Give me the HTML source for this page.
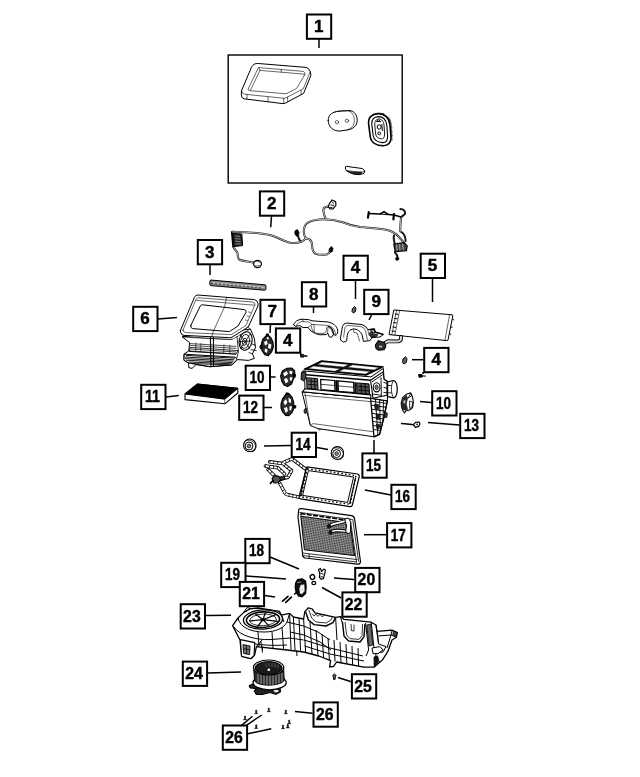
<!DOCTYPE html>
<html lang="en">
<head>
<meta charset="utf-8">
<title>HVAC Unit Parts Diagram</title>
<style>
html,body{margin:0;padding:0;background:#fff;}
body{width:640px;height:777px;overflow:hidden;}
svg{display:block;filter:grayscale(1);}
.lbl rect{fill:#fff;stroke:#000;stroke-width:2;}
.lbl text{font-family:"Liberation Sans",Arial,Helvetica,sans-serif;font-weight:bold;font-size:15.6px;text-anchor:middle;fill:#000;stroke:#000;stroke-width:.4;stroke-linejoin:round;}
.ld line{stroke:#000;stroke-width:1.5;}
.p{fill:none;stroke:#000;stroke-width:1;stroke-linejoin:round;stroke-linecap:round;}
.pw{fill:#fff;stroke:#000;stroke-width:1;stroke-linejoin:round;stroke-linecap:round;}
.t{fill:none;stroke:#000;stroke-width:.6;stroke-linejoin:round;stroke-linecap:round;}
.k{fill:#000;stroke:#000;stroke-width:.6;stroke-linejoin:round;}
.g{fill:#777;stroke:#000;stroke-width:.8;stroke-linejoin:round;}
</style>
</head>
<body>
<svg width="640" height="777" viewBox="0 0 640 777">
<rect x="0" y="0" width="640" height="777" fill="#fff"/>
<!-- 01_frame.svg -->
<g id="kit-frame">
<rect x="228.2" y="55" width="174" height="128" fill="none" stroke="#000" stroke-width="1.4"/>
<!-- gasket -->
<path class="p" stroke-width=".85" d="M241.6 90.5 L251.4 67.4 Q253.6 63 258.4 63.5 L306 67.4 Q308.8 67.9 310.3 71.5 L310.9 75.5 L303.6 93.4 L285.2 103.2 Q283 103.8 281 103.4 L244 98.8 Q241 98 241.3 94.8 Z"/>
<path class="t" d="M241.6 90.5 Q241.3 93.8 244.5 94.2 L283 98.2 Q284.8 98.4 286 97.8 L303.3 88.8 L310.3 71.5"/>
<path class="t" d="M258.9 67.6 L303.2 71.4 Q305.4 72 304.8 74.6 L296.6 88.4 L286 93.8 L249.2 90.6 Q247.6 90.2 248.4 88.4 Z"/>
<path class="t" d="M258.9 67.6 L260 70.4 L302.5 74 L304.8 74.6 M260 70.4 L250.4 90.4 M281 69.6 L281.4 72.2 M268 97 L268 101.6 M283.6 98.4 L283.8 103.2 M287.5 97.3 L287.8 101.7 M301 90.2 L301.3 94.4 M247 94.6 L247 99"/>
<!-- oval plate -->
<path class="p" stroke-width=".85" d="M328.2 120.5 C328 114.5 333 111.6 339 111.2 L349 110.6 C355 110.6 357.3 116 357.2 120.6 C357 126 353 129.2 347 130 L340 131 C333 131.3 328.4 127 328.2 120.5 Z"/>
<path class="t" d="M334 112.5 C336 111 346 110.2 350.6 111 M349.5 111.2 C353 113 354.6 117 354.3 121 C354 125.6 351.5 128.4 347.5 129.8"/>
<ellipse class="t" cx="336.9" cy="122.2" rx="1.7" ry="1.6"/>
<ellipse class="t" cx="346.9" cy="120.8" rx="1.7" ry="1.6"/>
<!-- grommet -->
<path d="M368.6 124 C368 117 372 114 378 113.8 C385 113.6 389 118 390 125 L391 137 C391.4 142.6 388 146 383 145.8 C377 145.6 371.6 142.8 370.4 137.6 Z" fill="#fff" stroke="#000" stroke-width="1.6"/>
<path d="M371.8 124.6 C371.4 119.4 374 116.8 378.6 116.6 C383.4 116.6 386 120 386.8 125 L387.6 136 C387.8 140.6 386 142.8 382.4 142.6 C377.6 142.2 374 140 373.2 136 Z" fill="none" stroke="#000" stroke-width="1.1"/>
<path class="t" d="M388.5 117 L390.6 121 M389.6 119.6 L391.4 124 M390.4 123 L392 128 M390.8 127 L392.2 132 M391.2 131 L392.4 136 M391.4 135 L392.2 140 M373 114.4 L378 113 L384 113.6"/>
<path d="M374.8 125 C374.6 121 376 119.2 378.8 119 C382 119 383.6 121.6 384 125 L384.6 134 C384.6 137.4 383.6 139 381.4 138.8 C378.4 138.6 376 137 375.6 134 Z" fill="none" stroke="#000" stroke-width=".9"/>
<path d="M376.4 121.6 L378.4 119.8 L380.6 121.6 Z M377.2 127 A2 2.2 0 1 0 381.2 127 A2 2.2 0 1 0 377.2 127 M377.8 133.4 A1.4 1.4 0 1 0 380.6 133.4 A1.4 1.4 0 1 0 377.8 133.4 M381.8 124 L382.4 131" fill="none" stroke="#000" stroke-width="1"/>
<!-- small wedge -->
<path class="p" d="M345.4 167 Q345.2 169.4 346.4 170.6 Q352 175 360 174.6 L364 173.4 L364.8 171 L362.6 168.6 L347 166.4 Z"/>
<path d="M347.4 171.2 Q353 174.8 360 174.2 L362 172 Q354 172.4 347.4 171.2 Z" fill="#333" stroke="#000" stroke-width=".6"/>
<path class="t" d="M346.4 170.6 L361.6 172.4 L364.8 171 M361.6 172.4 L360 174.6"/>
</g>
<!-- 02_harness.svg -->
<g id="harness">
<g fill="none" stroke="#1a1a1a" stroke-width="2.05" stroke-linecap="round" stroke-linejoin="round">
<path id="hw1" d="M232.5 231.8 C245 232 258 232.6 270 235 C280 237.6 285 242.6 292 243 C298 243.4 303 241.6 305.8 238.4 C303 234 303.6 229 305 225.6 C307 221.4 313 220 319 219.4 C328 218.8 336 220 342 222 C348 224.6 352 226 360 227 C370 228 379 228.6 386 229.8 C392 231 396 233.6 399 237 C401.6 240 403.6 242 405 244"/>
<path id="hw2" d="M326 219.2 C324 215 323.2 212 323.4 209.4 C323.8 207 326 206.6 328.6 206.6"/>
<path id="hw3" d="M305.8 238.4 C309 238.6 311.4 240 311.8 243 C312.2 247 312 250 314 252.4 C317 255 323 255 326.4 254.6 C328.6 254 329.6 252.6 330.4 251"/>
<path id="hw4" d="M298 236 C298.6 238.6 299.6 240.4 301 241.6"/>
<path id="hw5" d="M233.6 247 C234 249.4 236.6 250.6 237.4 253 C238.2 256 237.4 258.4 239.6 259.8 C243 261.4 248 261.4 253 262.6"/>
<path id="hw6" d="M405.6 241 C405.4 236 403.6 232.6 400.2 231.4 C400.2 227 400.6 222 401 218 C401.6 215.4 404.4 215.4 405 213.6 C405.6 211 403.6 209.2 400.4 209"/>
<path id="hw7" d="M394 235.4 C393.4 238 394 241 394.6 243 M395 252 C395 254 397.6 254 397.2 256.4"/>
</g>
<g fill="none" stroke="#fff" stroke-width=".7" stroke-linecap="round" stroke-linejoin="round">
<path d="M232.5 231.8 C245 232 258 232.6 270 235 C280 237.6 285 242.6 292 243 C298 243.4 303 241.6 305.8 238.4 C303 234 303.6 229 305 225.6 C307 221.4 313 220 319 219.4 C328 218.8 336 220 342 222 C348 224.6 352 226 360 227 C370 228 379 228.6 386 229.8 C392 231 396 233.6 399 237 C401.6 240 403.6 242 405 244"/>
<path d="M326 219.2 C324 215 323.2 212 323.4 209.4 C323.8 207 326 206.6 328.6 206.6"/>
<path d="M305.8 238.4 C309 238.6 311.4 240 311.8 243 C312.2 247 312 250 314 252.4 C317 255 323 255 326.4 254.6 C328.6 254 329.6 252.6 330.4 251"/>
<path d="M233.6 247 C234 249.4 236.6 250.6 237.4 253 C238.2 256 237.4 258.4 239.6 259.8 C243 261.4 248 261.4 253 262.6"/>
<path d="M400.2 231.4 C400.2 227 400.6 222 401 218"/>
</g>
<!-- left connector -->
<path d="M232.4 233.4 L241.8 234 L242.6 245.6 L233.6 246.6 Z" fill="#222" stroke="#000" stroke-width="1"/>
<path d="M235 236 L240 236.4 M235 238.6 L240.4 239 M235.2 241.2 L240.6 241.6 M235.4 243.8 L240.8 244" fill="none" stroke="#bbb" stroke-width=".7"/>
<path d="M231.6 231.4 L233 247.4" fill="none" stroke="#000" stroke-width="1.4"/>
<!-- round grommet -->
<ellipse cx="257.5" cy="264" rx="3.9" ry="3.6" fill="#fff" stroke="#000" stroke-width="1.2"/>
<path class="t" d="M254.4 262.4 C255.4 260.8 259 260.8 260 262.6 M255 266 L259.6 265.6"/>
<!-- small connectors -->
<path d="M295 231 L297.4 229.6 L299 232.4 L298.6 235.4 L296.4 236.2 L294.8 233.6 Z" fill="#000" stroke="#000" stroke-width=".8"/>
<path d="M329.4 248.4 L331.4 246.6 L333 248.4 L332.4 251.4 L330.4 252.4 L329 250.8 Z" fill="#000" stroke="#000" stroke-width=".8"/>
<path d="M329.4 203.6 L332 200 L335.6 201.6 L336 205 L333 208.8 L330 209 L328.4 206.6 Z" fill="#fff" stroke="#000" stroke-width="1.2"/>
<path d="M330.6 205 L334 205.4 M332 201.6 L333.6 203.6 M330 207.6 L332.6 207.8" fill="none" stroke="#000" stroke-width="1"/>
<!-- right connector block -->
<path d="M393.8 244 L404 242.6 L407.2 246 L406.4 250.6 L395.2 251.6 Z" fill="#444" stroke="#000" stroke-width="1.2"/>
<path d="M396.6 244.4 L397 250.8 M399.6 244 L400 250.6 M402.6 243.6 L403.2 250.4" fill="none" stroke="#ddd" stroke-width=".7"/>
<path d="M396 257.6 L398.2 257 L399 259.2 L397 260.4 L395.6 259.4 Z" fill="#000" stroke="#000" stroke-width=".8"/>
<!-- upper small harness -->
<path d="M368.6 213.4 L380 214 L384 211.6 L388.6 214.6 L394 215 L401 217" fill="none" stroke="#000" stroke-width="1.5" stroke-linejoin="round"/>
<path d="M380 214 L388.6 214.6" fill="none" stroke="#000" stroke-width="1.2"/>
<path d="M368.8 212 L368 217.6 M394 214 L393.4 219.4" fill="none" stroke="#000" stroke-width="2.2" stroke-linecap="round"/>
</g>
<!-- 03_strip.svg -->
<g id="strip3">
<path d="M210.4 280 L265 284.8 Q266.2 285 266 286.4 L265.8 289.4 Q265.6 290.4 264.4 290.2 L211 285.6 Q209.6 285.2 209.6 283.4 Z" fill="#888" stroke="#000" stroke-width="1"/>
<path d="M211.6 282.6 L264.6 287.4" fill="none" stroke="#ccc" stroke-width="1"/>
<path d="M212 282.6 l0 1.6 M216 283 l0 1.6 M220 283.3 l0 1.6 M224 283.7 l0 1.6 M228 284 l0 1.6 M232 284.4 l0 1.6 M236 284.8 l0 1.6 M240 285.1 l0 1.6 M244 285.5 l0 1.6 M248 285.9 l0 1.6 M252 286.2 l0 1.6 M256 286.6 l0 1.6 M260 287 l0 1.6" fill="none" stroke="#000" stroke-width=".8"/>
</g>
<!-- 05_heater.svg -->
<g id="heater5">
<path class="pw" d="M394.2 310 L452.4 314.8 L452.8 316 L448 340 L446.8 340.6 L389.4 334.6 Z" stroke-width="1.1"/>
<path class="t" d="M399.6 310.6 L394.8 335.2 M396.6 310.2 L391.8 334.8 M449.6 314.6 L445 340.2"/>
<path d="M395 314 L398.4 314.4 M394.2 318.4 L397.6 318.8 M393.4 322.6 L396.8 323 M392.6 327 L396 327.4 M391.8 331 L395.2 331.4" fill="none" stroke="#000" stroke-width="1"/>
<path d="M452.4 319.6 l1.6 .2 M451 327 l1.6 .2 M449.6 334 l1.6 .2" fill="none" stroke="#000" stroke-width="1"/>
<!-- pipe -->
<path d="M401 337 C401.4 340 400 341.6 397 341.4 L388 341.2 L384 343.6" fill="none" stroke="#000" stroke-width="3.9" stroke-linecap="round"/>
<path d="M401 337 C401.4 340 400 341.6 397 341.4 L388 341.2 L384 343.6" fill="none" stroke="#ddd" stroke-width="2" stroke-linecap="round"/>
<path d="M375.4 345 L378.4 340.6 L381 341.6 L384.6 342.6 L385.8 346.4 L384 349.8 L378.6 350.2 L376 348.4 Z" fill="#333" stroke="#000" stroke-width="1.1"/>
<path d="M378.6 345 L382.6 345.4 L382.4 348 L379 347.8 Z" fill="#ccc" stroke="#000" stroke-width=".6"/>
</g>
<!-- 06_housing.svg -->
<g id="housing6">
<!-- lower body -->
<path class="pw" d="M182.4 337 L189.6 342.6 L188.8 351 L184 354 L184 360.4 L188.6 363 L188.8 367.6 L192 368.4 L196 364.6 L210 366.8 L232 365 L237.6 359.6 L248.6 360.4 L254.4 358.4 L252.4 353.8 L255.4 348 L254.4 338.6 L250.6 329.4 Z"/>
<!-- louvre bands -->
<path d="M189.4 351 L236 354 L238 350.6 L190 347.4 Z" fill="#fff" stroke="#000" stroke-width=".8"/>
<path d="M184.2 354.2 L235.6 357.2 L237 359.8 L231.8 364.8 L210 366.6 L188.8 363 L184 360.2 Z" fill="#fff" stroke="#000" stroke-width="1"/>
<path d="M189 351.4 L236 354.2 M186 355.4 L235 358.2 M185 357 L234.4 359.8 M185 358.6 L233.6 361.2 M186 360.2 L232.6 362.6 M188.4 362 L231.6 363.8 M192 363.6 L229 364.8" fill="none" stroke="#000" stroke-width=".9"/>
<path d="M190 343.6 L236.4 346.4 M190 345.4 L236.4 348.4 M190 349 L236 352" fill="none" stroke="#000" stroke-width=".7"/>
<path d="M210.4 337 L211 366.6 M213.4 337 L213.6 366.4" fill="none" stroke="#000" stroke-width="1.1"/>
<path d="M196 342.6 L195.6 351 M201 343 L200.6 351.4 M224 344.4 L223.6 353 M230 344.8 L229.6 353.4" fill="none" stroke="#000" stroke-width=".6"/>
<!-- actuator wheel -->
<ellipse cx="245.6" cy="341" rx="6.4" ry="9.4" transform="rotate(12 245.6 341)" fill="#fff" stroke="#000" stroke-width="1.1"/>
<ellipse cx="245" cy="341.4" rx="4.4" ry="7" transform="rotate(12 245 341.4)" fill="none" stroke="#000" stroke-width=".8"/>
<ellipse cx="244.6" cy="341.8" rx="2.2" ry="3.6" transform="rotate(12 244.6 341.8)" fill="none" stroke="#000" stroke-width=".8"/>
<path d="M240 334 L249.6 348.6 M250 334 L240.4 349 M238.8 341.6 L251.4 341 M237 336 L238.4 352 L236.6 358.8 M250.6 349.6 L256.6 350.6 M252 344 L256 345.4 M248.6 352.4 L252.6 354" fill="none" stroke="#000" stroke-width=".8"/>
<!-- top frame -->
<path class="pw" d="M180.4 330.6 L194.4 297.4 Q195.4 294.8 198 295 L254.4 299.6 Q257.6 300.2 258 303.6 L258 306 L248.2 327 L232 337.2 Q230.4 337.8 228.6 337.6 L184 335.4 Q180 334.4 180.4 330.6 Z"/>
<path class="t" d="M183 330 L196 299.4 Q196.8 297.6 199 297.8 L252.6 302 Q255.2 302.4 255 304.6 L246 325.4 L231.4 334.6 L186 332.6 Q182.6 332 183 330 Z"/>
<path class="p" d="M190.8 325.4 L200.4 305.8 Q201 304.6 202.6 304.8 L244.4 309.6 Q246.6 310 246 312.4 L238 326 L229.4 331.6 L192.6 328.6 Q190.2 328 190.8 325.4 Z"/>
<path class="t" d="M226.6 297.4 L224.6 306.8 L213.4 331 L211.6 337 M196.6 300.4 L254.4 305.2 M181.4 333.4 L184 336.6 L229 339.6 L233 339 L249.4 329.6 M248.2 327 L250.6 329.6"/>
<path class="t" d="M248.6 312 l2 .4 M247 316 l2 .4 M245.4 320 l2 .4"/>
<path class="t" d="M182.4 337 L210 338.6 L232 339.4"/>
</g>
<!-- 07_actuator.svg -->
<g id="act7">
<path d="M262.6 339.4 L266 335.8 L268.4 335.4 L271 338 L273 342 L273.4 347 L271.6 352 L268.4 355.6 L264.8 354.6 L262 350.6 L261.2 345 Z" fill="#2a2a2a" stroke="#000" stroke-width="1.1" stroke-linejoin="round"/>
<path d="M264 342 L267 340.4 L267.6 344 L265 345.6 Z M268.6 343.6 L271.4 344.6 L270.6 349 L268 348 Z M265 348.4 L267.6 349.6 L267 353 L264.6 351.4 Z M267 337 L269 337.4 L268.6 339.4 L266.6 339 Z" fill="#fff"/>
<path d="M259.8 346 L261.8 344.6 L262.2 348.4 L260.4 349 Z M266.4 333.8 L268.6 334 L268.4 335.8 L266.2 335.6 Z" fill="#000" stroke="#000" stroke-width=".8"/>
<!-- screw near 4 -->
<path d="M300.4 354.4 L303.4 354.4 L304 357 L300.8 357.2 Z" fill="#222" stroke="#000" stroke-width=".9"/>
<path d="M304 355.8 L307.4 356.2" fill="none" stroke="#000" stroke-width="1.4"/>
</g>
<!-- 08_duct.svg -->
<g id="duct8">
<path class="pw" d="M293.6 324.6 C294.6 321.4 298 319.6 302 319.2 L308.6 319.6 L312 320.8 L328 322 C333 323 337 326 337.6 330 C338 332.6 337.4 334.6 335.6 335.2 L333.4 334.6 L331.6 337.2 L329.4 337 L327.6 333 L326.4 334.6 L320 334.8 L315.6 333.6 L311 331 L308 327.4 L303 327.6 L300 325.6 L296 326.2 Z" stroke-width="1.35"/>
<path class="t" stroke-width=".8" d="M296 326.2 C297 323 300 321.6 303 321.6 L309 322 L312 324.4 L327 325.4 C331.6 326 334.4 328.6 335 332 L335.6 335.2 M308 327.4 L312 324.4 M311.6 326 C311 330 314 333 318 333.4 L324 333.4 C326 333 326.6 331 326.6 327.6 M327.6 333 L328 327 C330 327.6 332 330 333.4 334.6 M314 324.6 L314.2 331.6 M302 319.2 L303.6 321.6"/>
<path d="M327.6 326 C331 327 333.4 330 333.6 334.4" fill="none" stroke="#000" stroke-width="1.3"/>
</g>
<!-- 09_cover.svg -->
<g id="cover9">
<path class="pw" d="M340.6 337.4 L342.4 326.6 Q343.4 323.4 346.6 323 L362 324.6 Q366.6 326 367.8 329.6 L374.4 328.6 L375.6 332.4 L383.6 334.4 L380 337 L372 337.6 L370 340.6 L363.4 341.4 L362.4 336 C361 331 357 329 353.6 329 C349.6 329.4 347.4 332 347 337.6 L346.6 341 L343.6 342.2 L341 340.4 Z" stroke-width="1.35"/>
<path class="t" d="M343.6 337 L345 327.6 Q345.8 325.6 348 325.4 L361 326.6 Q364.6 327.6 365.6 331 L367.4 339.6 M353.6 329 L353.8 332.4 L357 333 L359.6 341 M367.8 329.6 L369 335 L372 337.6 M371 329.4 L371.6 333 L375.6 332.4 M369 335 L376 335.4"/>
<path d="M369.6 330 L374 329.4 L374.6 332 L380 333.4 L383 334.6" fill="none" stroke="#000" stroke-width="1.3"/>
<path d="M369.4 333 L372 331 L374 334 L378 334.4 L376 337 L371 337.4 Z" fill="#333" stroke="#000" stroke-width=".7"/>
<!-- clips (4) -->
<path d="M352.4 308.6 L354.6 306.6 L356 308 L355.4 311.6 L353.4 313 L352 311.6 Z" fill="#666" stroke="#000" stroke-width="1"/>
<path d="M403 359 L405.4 356.8 L407 358.4 L406.4 362.4 L404 364 L402.6 362.4 Z" fill="#666" stroke="#000" stroke-width="1"/>
<path d="M418.6 374.6 L422 374.6 L422.4 377 L419 377.2 Z M422.4 375.8 L426 376.2" fill="#000" stroke="#000" stroke-width="1"/>
</g>
<!-- 10_actuators.svg -->
<g id="act10">
<!-- 10 left -->
<path d="M280.6 376 L282.4 371 L286.6 368.4 L291.6 368 L294.6 371 L295 376 L293 380 L291.6 384 L287.6 386.6 L284 385 L281.6 381 Z" fill="#2a2a2a" stroke="#000" stroke-width="1.1" stroke-linejoin="round"/>
<path d="M283 373.6 L286.6 371 L288 374 L284.6 376.6 Z M289.6 370.6 L292.6 371.6 L292 374.6 L289.4 373.6 Z M284 379 L287 378 L288.4 381.6 L285.6 383.6 Z M290 377 L292.6 377.6 L291.4 381 L289.6 380 Z" fill="#fff"/>
<path d="M292.6 373 L296 374.6 L295.6 377.6 L292.8 377 Z" fill="#000"/>
<!-- 12 -->
<path d="M281 404 L282.6 398.6 L286 394.2 L289 393.6 L292 397 L293.6 402 L294 408 L292 412.6 L289 415.6 L285.6 415.4 L282.6 412 L281 408 Z" fill="#2a2a2a" stroke="#000" stroke-width="1.1" stroke-linejoin="round"/>
<path d="M283.4 402 L286 399 L287.4 402.6 L285 405.6 Z M288.6 397.6 L291 399.6 L291 403 L288.6 402 Z M284 408 L287 407 L288 411 L285.6 413 Z M289.6 406 L292 406.6 L291 410.6 L289.4 410 Z" fill="#fff"/>
<path d="M292.6 404.6 L296.4 405.4 L296 408.4 L292.8 408 Z M285.6 392.4 L288.4 392.4 L288.2 394.4 L285.8 394.4 Z" fill="#000"/>
<!-- 14 grommets -->
<g id="g14a">
<ellipse cx="249.8" cy="445.4" rx="6.2" ry="6.4" fill="#fff" stroke="#000" stroke-width="1.1"/>
<path d="M246 440.6 C250 439.4 254.6 441.6 255.6 445.6 C256.4 449 254.6 451.6 252 451.6" fill="none" stroke="#000" stroke-width=".7"/>
<ellipse cx="249" cy="446" rx="3.9" ry="4" fill="#fff" stroke="#000" stroke-width="1"/>
<ellipse cx="249" cy="446" rx="1.8" ry="1.9" fill="#888" stroke="#000" stroke-width=".7"/>
</g>
</g>
<!-- 11_filter.svg -->
<g id="filter11">
<path d="M185 394 L185 399.6 L224.8 403.8 L237.8 393 L237.8 388.4 L197.4 384 Z" fill="#fff" stroke="#000" stroke-width="1.1" stroke-linejoin="round"/>
<path d="M185 394 L197.4 384 L237.8 388.4 L224.8 399.2 Z" fill="#000" stroke="#000" stroke-width="1" stroke-linejoin="round"/>
<path d="M224.8 399.2 L224.8 403.8" fill="none" stroke="#000" stroke-width=".6"/>
</g>
<!-- 13_right.svg -->
<g id="right10-13-14">
<path d="M401.2 403 L402.6 397.6 L406 394.6 L410.6 392.8 L412.4 396.6 L413.4 402 L412.6 407.6 L409.6 410 L405.6 411 L404.6 413 L403 411 L401.6 407 Z" fill="#fff" stroke="#000" stroke-width="1.1" stroke-linejoin="round"/>
<path d="M401.6 403 L403 398 L406.4 395 L408 398 L406.6 404 L408 409.6 L405.6 410.6 L403 410 L401.8 407 Z" fill="#2a2a2a"/>
<path d="M408 398 L410.6 393.6 L411.6 396 Z M409.6 401 L412.6 402 L412 407 L409.6 408.6 Z" fill="none" stroke="#000" stroke-width=".8"/>
<path d="M403.4 401 L405.4 400 L405.4 403 L403.6 403.6 Z" fill="#ccc"/>
<!-- screw 13 -->
<path d="M401.6 423.6 L404.6 423.8 M404.6 423.8 L414 424.8" fill="none" stroke="#000" stroke-width="1.5" stroke-linecap="round"/>
<path d="M413.4 424.6 L415.6 422.4 L419 422 L420 424 L418.6 426.4 L415.4 427.4 Z" fill="#fff" stroke="#000" stroke-width="1.2" stroke-linejoin="round"/>
<path d="M415.6 424 L418 423.6 L417.6 425.4 Z" fill="#000"/>
<!-- grommet 14 right -->
<ellipse cx="337.4" cy="453" rx="6.2" ry="6.4" fill="#fff" stroke="#000" stroke-width="1.1"/>
<path d="M333.6 448.2 C337.6 447 342.2 449.2 343.2 453.2 C344 456.6 342.2 459.2 339.6 459.2" fill="none" stroke="#000" stroke-width=".7"/>
<ellipse cx="336.6" cy="453.6" rx="3.9" ry="4" fill="#fff" stroke="#000" stroke-width="1"/>
<ellipse cx="336.6" cy="453.6" rx="1.8" ry="1.9" fill="#888" stroke="#000" stroke-width=".7"/>
</g>
<!-- 15_case.svg -->
<g id="case15">
<!-- lower evaporator housing -->
<path class="pw" d="M302.4 391.8 L370.6 398.2 L387.4 400.8 L383.8 418 L379.6 434.4 L374 436.8 L318 428.6 L310.4 425.6 L307 412 Z" stroke-width="1.2"/>
<clipPath id="sideclip"><path d="M370.6 398.2 L387.4 400.8 L383.8 418 L379.6 434.4 L374 436.8 Z"/></clipPath>
<g clip-path="url(#sideclip)">
<path d="M370 401 L388 403.6 M370 405 L388 407.6 M370 409 L388 411.6 M370 413 L388 415.6 M370 417 L388 419.6 M370 421 L388 423.6 M370 425 L388 427.6 M370 429 L388 431.6 M375.4 398 L378 437 M379.6 398 L380.6 437 M383.6 398 L382.6 437" fill="none" stroke="#000" stroke-width=".9"/>
<path d="M374.6 404 L378.6 404.6 L378.6 409.6 L375 409 Z M376 414 L380 414.6 L379.6 419.6 L376.4 419 Z M376.4 424 L379.6 424.6 L379 429 L376.8 428.6 Z" fill="#222" stroke="#000" stroke-width=".6"/>
</g>
<path d="M370.6 398.2 L387.4 400.8 L383.8 418 L379.6 434.4 L374 436.8 Z" fill="none" stroke="#000" stroke-width="1.3" stroke-linejoin="round"/>
<path class="t" d="M310.4 425.6 L313 423.6 L373.6 431.8 M305 393.6 L310 424 M304.6 395.4 L370.8 401.6 M318 428.6 L319 430.4 L321 429.2"/>
<path d="M304 410.4 L305.6 408 L307 410 L306 413.4 L304.4 413 Z M384.6 412.4 L387.4 413 L386.8 417.6 L384.2 417 Z" fill="#444" stroke="#000" stroke-width=".8"/>
<g transform="translate(0,1.3)">
<!-- upper body -->
<path class="pw" d="M301.6 372 L303 369.6 L371 375.6 L383.4 367 L384 378 L387.6 380 L387.4 399.5 L370.6 396.9 L302.4 390.5 L305 388 L304.6 376 Z" stroke-width="1.2"/>
<path d="M302.4 390.5 L370.6 396.9 L371 393.6 L305 387.4 Z" fill="#fff" stroke="#000" stroke-width="1.1" stroke-linejoin="round"/>
<path d="M306 373.4 L370.6 379" fill="none" stroke="#000" stroke-width="1.6"/>
<path d="M306.6 376.4 L317.6 377.4 L318 388 L307 387 Z" fill="#666" stroke="#000" stroke-width="1"/>
<path d="M308 379.6 L317 380.4 M308 383 L317 383.8 M311 377 L311.4 387.4 M314.6 377.2 L315 387.6" fill="none" stroke="#000" stroke-width=".9"/>
<path d="M320.6 378 L334.6 379.2 L335 389.6 L321 388.4 Z M338 379.6 L353.6 381 L354 391.4 L338.4 390 Z" fill="#fff" stroke="#000" stroke-width="1.2" stroke-linejoin="round"/>
<path d="M321 383 L334.6 384.2 M338.4 384.6 L353.6 386" fill="none" stroke="#000" stroke-width=".7"/>
<path d="M356.6 381.6 L369 382.6 L369.6 393 L357 392 Z" fill="#555" stroke="#000" stroke-width="1"/>
<path d="M358 385 L368.6 386 M358 388.6 L369 389.6 M361 382 L361.4 392.4 M365 382.4 L365.4 392.8" fill="none" stroke="#000" stroke-width=".9"/>
<path d="M335.6 379 L337.4 379.2 L337.6 390.4 L335.8 390.2 Z M354.6 381 L355.8 381.2 L356 392.2 L354.8 392 Z" fill="#000" stroke="#000" stroke-width=".6"/>
<!-- right actuator cluster + motor -->
<path d="M370.6 379 L383 370.6 L384 378 L387 380 L387 394 L373 397 Z" fill="#fff" stroke="#000" stroke-width="1.1" stroke-linejoin="round"/>
<ellipse cx="376.6" cy="386" rx="3.4" ry="4.6" fill="#fff" stroke="#000" stroke-width="1.1"/>
<ellipse cx="376.6" cy="386" rx="1.6" ry="2.4" fill="#777" stroke="#000" stroke-width=".7"/>
<path d="M372 380.6 L382.6 373.4 M381 376 L381.4 394.6 M383.4 381 L386.6 382 M383.6 386 L387 387 M383.4 391 L387 391.6 M372.4 392.6 L381 394" fill="none" stroke="#000" stroke-width=".9"/>
<path d="M387.6 380.6 L393.6 379.2 C396 380 397.2 384 397.2 388 C397.2 392 396.2 395.6 394 396.6 L387.6 395.4 Z" fill="#fff" stroke="#000" stroke-width="1.2" stroke-linejoin="round"/>
<path d="M393.6 379.2 C392 381 391.4 384.6 391.4 388 C391.4 391.6 392.4 395 394 396.6 M387.6 384 L391.6 384.4 M387.6 391.4 L391.6 391.6" fill="none" stroke="#000" stroke-width=".8"/>
<!-- left linkage -->
<path d="M301.6 371 L305.6 370.2 L306 377 L303.4 379.6 L301 378 Z" fill="#444" stroke="#000" stroke-width="1"/>
</g>
<!-- lid -->
<path d="M321.5 360.8 L383.4 366.8 L366.1 375.2 L304.2 369.2 Z" fill="#111" stroke="#000" stroke-width="1.2" stroke-linejoin="round"/>
<path d="M322.2 361.9 L348.9 364.5 L343.7 367.0 L317.1 364.4 Z M352.6 364.8 L379.2 367.4 L374.0 369.9 L347.4 367.3 Z M313.6 366.1 L340.2 368.7 L335.0 371.2 L308.4 368.6 Z M343.9 369.0 L370.5 371.6 L365.4 374.1 L338.7 371.5 Z" fill="#fff" stroke="#000" stroke-width=".4"/>
</g>
<!-- 16_frame.svg -->
<g id="frame16">
<!-- tubes -->
<g fill="none" stroke="#000" stroke-width="3.5" stroke-linecap="round" stroke-linejoin="round">
<path d="M306 469.4 L293.6 460 Q292 458.8 290 459.6 L284 462.4"/>
<path d="M279.6 483 L285 493 Q285.8 494.4 288 494.8 L300 497.4"/>
<path d="M269.6 461.8 L283 463.6 L291.6 470.6 L288 477.2 L280 479.2"/>
<path d="M265.4 466 L278 467.8 L284.6 474"/>
<path d="M268 469.6 L274.6 476"/>
</g>
<g fill="none" stroke="#fff" stroke-width="1.8" stroke-linecap="round" stroke-linejoin="round">
<path d="M306 469.4 L293.6 460 Q292 458.8 290 459.6 L284 462.4"/>
<path d="M279.6 483 L285 493 Q285.8 494.4 288 494.8 L300 497.4"/>
<path d="M269.6 461.8 L283 463.6 L291.6 470.6 L288 477.2 L280 479.2"/>
<path d="M265.4 466 L278 467.8 L284.6 474"/>
<path d="M268 469.6 L274.6 476"/>
</g>
<g fill="none" stroke="#000" stroke-width="3" stroke-dasharray=".7 3.2">
<path d="M306 469.4 L293.6 460 Q292 458.8 290 459.6 L284 462.4"/>
<path d="M279.6 483 L285 493 Q285.8 494.4 288 494.8 L300 497.4"/>
<path d="M269.6 461.8 L283 463.6 L291.6 470.6 L288 477.2 L280 479.2"/>
<path d="M265.4 466 L278 467.8 L284.6 474"/>
<path d="M268 469.6 L274.6 476"/>
</g>
<path d="M272 478.6 L275 475.6 L279 476.4 L280.6 479.6 L278 482.8 L274 483 Z" fill="#555" stroke="#000" stroke-width="1.1" stroke-linejoin="round"/>
<path d="M270.4 483.4 L273 480.6" fill="none" stroke="#000" stroke-width="1.6" stroke-linecap="round"/>
<path d="M279.6 477 L284 476 L285 479 L281 480.6 Z" fill="#333" stroke="#000" stroke-width=".8"/>
<!-- frame -->
<path d="M306.8 466.8 L357.6 474 Q359.6 474.6 359.2 476.6 L352.4 505 Q351.8 506.8 350 506.6 L300.6 498.8 Q298.6 498.2 299.2 496.2 Z" fill="#fff" stroke="#000" stroke-width="1.2" stroke-linejoin="round"/>
<path d="M308.4 470.6 L353.6 477 L347.6 502.4 L302.6 495.4 Z" fill="#fff" stroke="#000" stroke-width="1" stroke-linejoin="round"/>
<path d="M307.4 468.8 L356 475.6 L350.2 504.4 L301 496.8 Z" fill="none" stroke="#000" stroke-width="1.3" stroke-dasharray="1.6 2.2"/>
<path d="M305.6 470.4 L300.4 496.4 M355.6 477.6 L349.6 504" fill="none" stroke="#000" stroke-width="1.2"/>
</g>
<!-- 17_evap.svg -->
<g id="evap17">
<defs>
<pattern id="hatch" width="1.7" height="1.7" patternUnits="userSpaceOnUse" patternTransform="rotate(8)">
<rect width="1.7" height="1.7" fill="#b0b0b0"/>
<path d="M0 .3 H1.7 M.3 0 V1.7" stroke="#2a2a2a" stroke-width=".55"/>
</pattern>
</defs>
<path d="M298.6 511 Q298.4 508.2 301.4 508.6 L351.6 515.6 Q354.2 516.2 354.6 519 L360.4 561 Q360.6 564.4 357.4 564.2 L305 558 Q302.6 557.4 302.6 555 L302.4 552 L298 517 Z" fill="#fff" stroke="#000" stroke-width="1.2" stroke-linejoin="round"/>
<path d="M300.8 516.2 L350 523 L354.6 555.6 L304.4 549.8 Z" fill="url(#hatch)" stroke="#000" stroke-width="1"/>
<path d="M299.4 512.4 L352.6 519.6 M300 514 L302 516.6 M350.6 521.6 L356.6 562.6 M352.8 519.6 L358.6 561.6 M302.6 553 L357.4 559.6 M303 555.6 L357 562 M309 553.8 L309.4 558.4" fill="none" stroke="#000" stroke-width=".8"/>
<path d="M300.4 513.6 L350.4 520.6" fill="none" stroke="#000" stroke-width="1.6" stroke-dasharray="5 1.4"/>
<!-- pipes -->
<g fill="none" stroke="#000" stroke-width="3.6" stroke-linecap="round">
<path d="M329 526 C334 522.6 341 523 346.6 520.6"/>
<path d="M330.6 532 C336 529 343 531.6 348 531"/>
</g>
<g fill="none" stroke="#fff" stroke-width="1.6" stroke-linecap="round">
<path d="M331 525 C335 522.8 341 523 346.6 520.6"/>
<path d="M332.6 531.2 C337 529.4 343 531.6 348 531"/>
</g>
<path d="M344.6 519 L348.6 518 L350.6 522 L350.6 532 L348 534 L345.6 531 L346.6 526 Z" fill="#fff" stroke="#000" stroke-width="1"/>
<ellipse cx="329" cy="526.4" rx="2" ry="2.3" fill="#111"/>
<ellipse cx="330.4" cy="532.6" rx="2" ry="2.3" fill="#111"/>
</g>
<!-- 19_small.svg -->
<g id="small18-22">
<!-- expansion valve -->
<path d="M295.6 583 L297.6 579.6 L302 578.8 L305.6 581 L306.2 587 L305.6 593.6 L302 596.8 L298.4 596 L296 592 L295.2 587 Z" fill="#111" stroke="#000" stroke-width="1.2" stroke-linejoin="round"/>
<path d="M300.6 584.6 L304.6 584 L305 591 L302 594.6 L299.6 593.6 L299 588.6 Z" fill="#eee" stroke="#000" stroke-width=".6"/>
<path d="M297 582.6 L301 582 M300.6 588 L304 591.6" fill="none" stroke="#ccc" stroke-width=".7"/>
<path d="M294.6 594 L297.6 591.6" fill="none" stroke="#000" stroke-width="1.6" stroke-linecap="round"/>
<!-- o-rings -->
<ellipse cx="312.4" cy="577" rx="2.2" ry="2.4" fill="#fff" stroke="#000" stroke-width="1.4" transform="rotate(-25 312.4 577)"/>
<ellipse cx="313.8" cy="583" rx="1.9" ry="1.7" fill="#fff" stroke="#000" stroke-width="1.3"/>
<!-- clip 20 -->
<path d="M318.6 569.6 L320.4 568.4 L321.6 571.6 L323.6 569 L325.4 570 L324.6 574.4 L323.4 578.6 L321 579.2 L319.4 577.4 L319.8 574 Z" fill="#fff" stroke="#000" stroke-width="1.2" stroke-linejoin="round"/>
<path d="M320.4 573 L323.6 574.4 M320.6 576.6 L323 577" fill="none" stroke="#000" stroke-width=".9"/>
<!-- pins 21 -->
<path d="M282.6 601.2 L288 596.4 M285.8 602.4 L291.4 597.2" fill="none" stroke="#000" stroke-width="1.7" stroke-linecap="round"/>
</g>
<!-- 23_blowerhousing.svg -->
<g id="housing23">
<!-- main silhouette -->
<path d="M232.6 625.6 L238 618 L243.8 612.4 L250.4 608.8 L258 608 L279.4 611.4 L281.4 615.2 L289.6 613.4 L293.4 617 L303.6 619 L304.8 611.6 L308.4 607.8 L312.2 609 L315 612.8 L335.6 617.4 L340.4 616.6 L344 619.4 L371.2 622.2 L376 625 L377 631.4 L392 630.2 L397.4 632.6 L396.4 637.2 L392 640 L388 651.2 L382.6 659.8 L374 667.2 L363.8 667.2 L336.6 662 L333.6 666.4 L329.6 667 L330.6 660.6 L318.8 656 L303.8 652 L287 650 L256.4 646.6 L254.6 655 L251.2 658.6 L241.6 656 L240 640 Z" fill="#fff" stroke="#000" stroke-width="1.3" stroke-linejoin="round"/>
<g transform="translate(-0.6,1.3)">
<!-- blower ring -->
<ellipse cx="263.6" cy="618.2" rx="19.6" ry="9.6" transform="rotate(-3 263.6 618.2)" fill="#fff" stroke="#000" stroke-width="1.3"/>
<ellipse cx="263.6" cy="618.4" rx="16.6" ry="7.8" transform="rotate(-3 263.6 618.4)" fill="#fff" stroke="#000" stroke-width="1.6"/>
<ellipse cx="263.6" cy="618.6" rx="13.4" ry="5.8" transform="rotate(-3 263.6 618.6)" fill="none" stroke="#000" stroke-width=".8"/>
<path d="M263.6 618.4 L250 619.6 M263.6 618.4 L256 612.6 M263.6 618.4 L266 611.2 M263.6 618.4 L276 613.6 M263.6 618.4 L278.4 620 M263.6 618.4 L270 625 M263.6 618.4 L258 625.2" fill="none" stroke="#000" stroke-width="1.2"/>
<ellipse cx="263.6" cy="618.4" rx="2.4" ry="1.6" fill="#000"/>
</g>
<path d="M243.8 612.4 L247 607.6 L251 608.6 M238 618 C240 628 252 632 264 632 C276 632 284 628 287 622 L289.6 613.4 M234 627 C240 636 256 640 270 639.6 L290 638 L303.6 640 M240 640 C252 645 270 646 287 645 M281.4 615.2 L284 622" fill="none" stroke="#000" stroke-width="1"/>
<!-- connector box -->
<path d="M240.4 639.6 L254.8 642.6 L254 655.6 L250.6 658.6 L241.6 656.4 Z" fill="#fff" stroke="#000" stroke-width="1.1" stroke-linejoin="round"/>
<path d="M243 644.6 L250 646 L249.6 654.6 L243.6 653.4 Z" fill="#777" stroke="#000" stroke-width=".9"/>
<path d="M243.4 648.6 L249.8 650 M246.4 645.4 L246.6 654" fill="none" stroke="#000" stroke-width=".8"/>
<!-- duct body ribs -->
<path d="M289.6 613.4 L291 649.6 M293.4 617 L295 650.4 M303.6 619 L305.6 652 M299 618 L300.6 651 M258 632 L259 646.6 M272 632 L273 648 M282 627 L283.6 649 M287 622 L303.6 626 L318 632 L330 640 M290 632 L304 635 L320 642 L331 650 M256.4 646.6 L262 640 M260.6 641 L262.6 650 M262 647.2 L262.4 652.6 M296.6 650.6 L297 656" fill="none" stroke="#000" stroke-width="1"/>
<path d="M310 622 L312 654 M316 630 L318 655.6 M322 634 L323.6 657.6 M328 638 L329.4 660 M334 640 L335 661.6 M340 642 L341 662.6 M346 644 L346.8 663.8 M352 646 L352.6 665 M358 648 L358.6 666 M304 640 L330 648 L363 656 M304.6 646 L330 654 L364 661" fill="none" stroke="#000" stroke-width="1"/>
<!-- pockets -->
<path d="M305.6 611.6 L308.4 620 L314 624.6 L326 626 L333 622.6 L335.6 617.4" fill="none" stroke="#000" stroke-width="1.4" stroke-linejoin="round"/>
<path d="M308.8 609.8 L311.6 618 L316 622 L326 623 L331 620 L332.6 616.6 M312 613.6 l2 2.4 l2 -2 l2 2.4 l2 -2 l2 2.4 l2.4 -1.6" fill="none" stroke="#000" stroke-width=".8" stroke-linejoin="round"/>
<path d="M342.4 621.6 L344 636 L348.6 641 L360 642 L364 636.6 L365 624" fill="none" stroke="#000" stroke-width="1.4" stroke-linejoin="round"/>
<path d="M345 622 L346.6 635 L350 638.6 L359 639.4 L362 635.6 L362.6 624 M351 624 L351.4 630.6 L354 631 L354 624.6" fill="none" stroke="#000" stroke-width=".8" stroke-linejoin="round"/>
<path d="M335.6 617.4 L337 640 M340.4 616.6 L342 622 M365.6 623 L368.6 650 L366 656 M371.2 622.2 L374 648 M376 625 L378.6 644" fill="none" stroke="#000" stroke-width="1"/>
<!-- right end -->
<path d="M377 631.4 L378.6 644 L386 646.6 L383 652 L376 653 L375.6 660 L380 661.6 L374 667.2 M377.6 636 L391 635 L396.4 637.2 M392 630.2 L391 635 L387 648" fill="none" stroke="#000" stroke-width="1"/>
<path d="M374 657 L377.6 656 L378.6 660 L376.4 664.6 L374.2 666.4 Z" fill="#111" stroke="#000" stroke-width=".8"/>
<path d="M372 648 L380 646.6 L383 650 L378 653.6 L373 653.6 Z" fill="#fff" stroke="#000" stroke-width="1"/>
<path d="M366.8 625 L370.8 624 L372.8 645 L368.8 646 Z" fill="#666" stroke="#000" stroke-width=".8"/>
<path d="M393.4 631 L396.6 632.6 L395.8 636 L392.8 635 Z" fill="#555" stroke="#000" stroke-width=".8"/>
</g>
<!-- 24_blower.svg -->
<g id="blower24">
<!-- base legs -->
<path d="M249 685.6 L254 683.6 L258 686 L256 688.6 L250 688 Z" fill="#222" stroke="#000" stroke-width="1"/>
<path d="M254 690.6 L258 687.6 L280 688 L280.6 692 L276 694.4 L270 692.6 L262 694.6 L256 694.4 Z" fill="#222" stroke="#000" stroke-width="1"/>
<path d="M272.6 689.6 L278.6 689.4 L279 692 L275 693 Z" fill="#eee" stroke="#000" stroke-width=".6"/>
<!-- bottom flange -->
<ellipse cx="269.6" cy="682.6" rx="16.6" ry="7.2" fill="#fff" stroke="#000" stroke-width="1.3"/>
<!-- body -->
<path d="M253.6 667.6 L254.6 681 C258 686.6 280 686.6 284.2 680.6 L283.6 667.6 Z" fill="#2a2a2a" stroke="#000" stroke-width="1"/>
<path d="M258 673 V683 M261 674 V684 M264 674.6 V684.6 M267 675 V685 M270 675 V685 M273 675 V685 M276 674.6 V684.4 M279 674 V683.6 M282 673 V682" fill="none" stroke="#bbb" stroke-width=".8"/>
<!-- top ring -->
<ellipse cx="268.6" cy="667.6" rx="15.2" ry="7.6" fill="#fff" stroke="#000" stroke-width="1.2"/>
<ellipse cx="268.6" cy="668" rx="13.6" ry="6.4" fill="#1a1a1a" stroke="#000" stroke-width="1"/>
<path d="M266 663 V667 M269 662.6 V666.6 M272 662.8 V667 M275 663.4 V667.4 M278 664.4 V668" fill="none" stroke="#888" stroke-width=".6"/>
<ellipse cx="268.8" cy="669.8" rx="1.4" ry="1.2" fill="#fff"/>
</g>
<!-- 26_screws.svg -->
<g id="screws26" fill="#000" stroke="#000" stroke-width=".5">
<path d="M255.2 710.8 l1 -.9 l1 .9 l-.5 .5 l0 1.6 l1.2 .8 l-3.4 0 l1.2 -.8 l0 -1.6 Z"/>
<path d="M267.8 708.8 l1 -.9 l1 .9 l-.5 .5 l0 1.6 l1.2 .8 l-3.4 0 l1.2 -.8 l0 -1.6 Z"/>
<path d="M284.8 710.8 l1 -.9 l1 .9 l-.5 .5 l0 1.6 l1.2 .8 l-3.4 0 l1.2 -.8 l0 -1.6 Z"/>
<path d="M244.0 716.8 l1 -.9 l1 .9 l-.5 .5 l0 1.6 l1.2 .8 l-3.4 0 l1.2 -.8 l0 -1.6 Z"/>
<path d="M288.2 720.8 l1 -.9 l1 .9 l-.5 .5 l0 1.6 l1.2 .8 l-3.4 0 l1.2 -.8 l0 -1.6 Z"/>
<path d="M255.2 725.5 l1 -.9 l1 .9 l-.5 .5 l0 1.6 l1.2 .8 l-3.4 0 l1.2 -.8 l0 -1.6 Z"/>
<path d="M282.0 725.8 l1 -.9 l1 .9 l-.5 .5 l0 1.6 l1.2 .8 l-3.4 0 l1.2 -.8 l0 -1.6 Z"/>
<path d="M286.8 725.0 l1 -.9 l1 .9 l-.5 .5 l0 1.6 l1.2 .8 l-3.4 0 l1.2 -.8 l0 -1.6 Z"/>
</g>
<g id="screw25">
<path d="M332.6 675.6 L334.4 674 L336.2 675.4 L335.4 677 L335 679.6 L333.6 679.6 L333.4 677 Z" fill="#555" stroke="#000" stroke-width=".9"/>
</g>
<g class="ld">
<line x1="319" y1="39" x2="319" y2="48"/>
<line x1="271.5" y1="216" x2="270.7" y2="227.3"/>
<line x1="210" y1="264" x2="210" y2="275"/>
<line x1="355.5" y1="280" x2="355.5" y2="299"/>
<line x1="432.5" y1="278" x2="432.5" y2="302"/>
<line x1="158" y1="319" x2="177" y2="317.5"/>
<line x1="270.5" y1="324" x2="270" y2="333"/>
<line x1="313.5" y1="307" x2="313.5" y2="313"/>
<line x1="372" y1="314" x2="369" y2="320"/>
<line x1="300.4" y1="353" x2="301" y2="355.4"/>
<line x1="423" y1="359.7" x2="412" y2="359.7"/>
<line x1="423" y1="372" x2="423" y2="374"/>
<line x1="270" y1="377" x2="275.6" y2="377"/>
<line x1="431.6" y1="402.5" x2="420" y2="401.5"/>
<line x1="166" y1="397" x2="178.75" y2="395.6"/>
<line x1="264" y1="407.5" x2="272" y2="407.5"/>
<line x1="459.4" y1="425" x2="428" y2="422.5"/>
<line x1="291" y1="445.6" x2="264" y2="446"/>
<line x1="317" y1="447.4" x2="328" y2="449.4"/>
<line x1="374" y1="453" x2="374" y2="440"/>
<line x1="391" y1="495" x2="365" y2="490"/>
<line x1="386" y1="534.7" x2="364" y2="534.7"/>
<line x1="270" y1="557" x2="299" y2="569"/>
<line x1="246" y1="576" x2="286" y2="579"/>
<line x1="354" y1="579.5" x2="334" y2="578"/>
<line x1="265" y1="595.5" x2="275" y2="597"/>
<line x1="341.25" y1="598" x2="322" y2="587.5"/>
<line x1="205.6" y1="615.6" x2="231" y2="615.3"/>
<line x1="207.8" y1="673" x2="241" y2="672"/>
<line x1="352" y1="682" x2="338" y2="677.5"/>
<line x1="312.5" y1="713.25" x2="295" y2="711.5"/>
<line x1="241.25" y1="725.6" x2="252.5" y2="716.25"/>
<line x1="246" y1="725.6" x2="261.75" y2="715"/>
<line x1="247.8" y1="733.75" x2="271.25" y2="728.75"/>
</g>
<g class="lbl">
<g><rect x="306.9" y="14.5" width="24.3" height="24.3"/><text x="318.8" y="32.1" textLength="9.5" lengthAdjust="spacingAndGlyphs">1</text></g>
<g><rect x="259.9" y="191.4" width="24.3" height="24.3"/><text x="271.8" y="209.0" textLength="9.5" lengthAdjust="spacingAndGlyphs">2</text></g>
<g><rect x="197.8" y="240.0" width="24.3" height="24.3"/><text x="209.8" y="257.6" textLength="9.5" lengthAdjust="spacingAndGlyphs">3</text></g>
<g><rect x="343.5" y="255.7" width="24.3" height="24.3"/><text x="355.4" y="273.2" textLength="9.5" lengthAdjust="spacingAndGlyphs">4</text></g>
<g><rect x="275.9" y="328.4" width="24.3" height="24.3"/><text x="287.8" y="345.9" textLength="9.5" lengthAdjust="spacingAndGlyphs">4</text></g>
<g><rect x="424.2" y="347.9" width="24.3" height="24.3"/><text x="436.2" y="365.4" textLength="9.5" lengthAdjust="spacingAndGlyphs">4</text></g>
<g><rect x="420.7" y="253.7" width="24.3" height="24.3"/><text x="432.6" y="271.3" textLength="9.5" lengthAdjust="spacingAndGlyphs">5</text></g>
<g><rect x="133.2" y="306.8" width="24.3" height="24.3"/><text x="145.1" y="324.3" textLength="9.5" lengthAdjust="spacingAndGlyphs">6</text></g>
<g><rect x="260.4" y="299.8" width="24.3" height="24.3"/><text x="272.3" y="317.3" textLength="9.5" lengthAdjust="spacingAndGlyphs">7</text></g>
<g><rect x="301.9" y="282.2" width="24.3" height="24.3"/><text x="313.8" y="299.8" textLength="9.5" lengthAdjust="spacingAndGlyphs">8</text></g>
<g><rect x="364.2" y="289.8" width="24.3" height="24.3"/><text x="376.2" y="307.3" textLength="9.5" lengthAdjust="spacingAndGlyphs">9</text></g>
<g><rect x="245.7" y="365.7" width="24.3" height="24.3"/><text x="256.9" y="383.2" textLength="15.0" lengthAdjust="spacingAndGlyphs">10</text></g>
<g><rect x="432.2" y="391.2" width="24.3" height="24.3"/><text x="443.5" y="408.8" textLength="15.0" lengthAdjust="spacingAndGlyphs">10</text></g>
<g><rect x="141.2" y="384.8" width="24.3" height="24.3"/><text x="152.4" y="402.3" textLength="15.0" lengthAdjust="spacingAndGlyphs">11</text></g>
<g><rect x="239.2" y="395.6" width="24.3" height="24.3"/><text x="250.5" y="413.1" textLength="15.0" lengthAdjust="spacingAndGlyphs">12</text></g>
<g><rect x="460.2" y="413.8" width="24.3" height="24.3"/><text x="471.4" y="431.3" textLength="15.0" lengthAdjust="spacingAndGlyphs">13</text></g>
<g><rect x="291.7" y="432.7" width="24.3" height="24.3"/><text x="302.9" y="450.2" textLength="15.0" lengthAdjust="spacingAndGlyphs">14</text></g>
<g><rect x="362.4" y="453.4" width="24.3" height="24.3"/><text x="373.6" y="470.9" textLength="15.0" lengthAdjust="spacingAndGlyphs">15</text></g>
<g><rect x="391.4" y="484.8" width="24.3" height="24.3"/><text x="402.6" y="502.3" textLength="15.0" lengthAdjust="spacingAndGlyphs">16</text></g>
<g><rect x="387.1" y="523.1" width="24.3" height="24.3"/><text x="398.3" y="540.6" textLength="15.0" lengthAdjust="spacingAndGlyphs">17</text></g>
<g><rect x="245.3" y="538.9" width="24.3" height="24.3"/><text x="256.6" y="556.4" textLength="15.0" lengthAdjust="spacingAndGlyphs">18</text></g>
<g><rect x="221.2" y="562.8" width="24.3" height="24.3"/><text x="232.4" y="580.3" textLength="15.0" lengthAdjust="spacingAndGlyphs">19</text></g>
<g><rect x="355.2" y="567.9" width="24.3" height="24.3"/><text x="366.4" y="585.4" textLength="17.6" lengthAdjust="spacingAndGlyphs">20</text></g>
<g><rect x="239.8" y="581.9" width="24.3" height="24.3"/><text x="251.1" y="599.4" textLength="17.6" lengthAdjust="spacingAndGlyphs">21</text></g>
<g><rect x="342.4" y="592.4" width="24.3" height="24.3"/><text x="353.6" y="609.9" textLength="17.6" lengthAdjust="spacingAndGlyphs">22</text></g>
<g><rect x="180.7" y="604.2" width="24.3" height="24.3"/><text x="191.9" y="621.8" textLength="17.6" lengthAdjust="spacingAndGlyphs">23</text></g>
<g><rect x="182.8" y="661.6" width="24.3" height="24.3"/><text x="194.1" y="679.1" textLength="17.6" lengthAdjust="spacingAndGlyphs">24</text></g>
<g><rect x="351.9" y="674.2" width="24.3" height="24.3"/><text x="363.1" y="691.8" textLength="17.6" lengthAdjust="spacingAndGlyphs">25</text></g>
<g><rect x="313.5" y="702.4" width="24.3" height="24.3"/><text x="324.7" y="719.9" textLength="17.6" lengthAdjust="spacingAndGlyphs">26</text></g>
<g><rect x="222.8" y="725.5" width="24.3" height="24.3"/><text x="234.0" y="743.0" textLength="17.6" lengthAdjust="spacingAndGlyphs">26</text></g>
</g>
</svg>
</body>
</html>
